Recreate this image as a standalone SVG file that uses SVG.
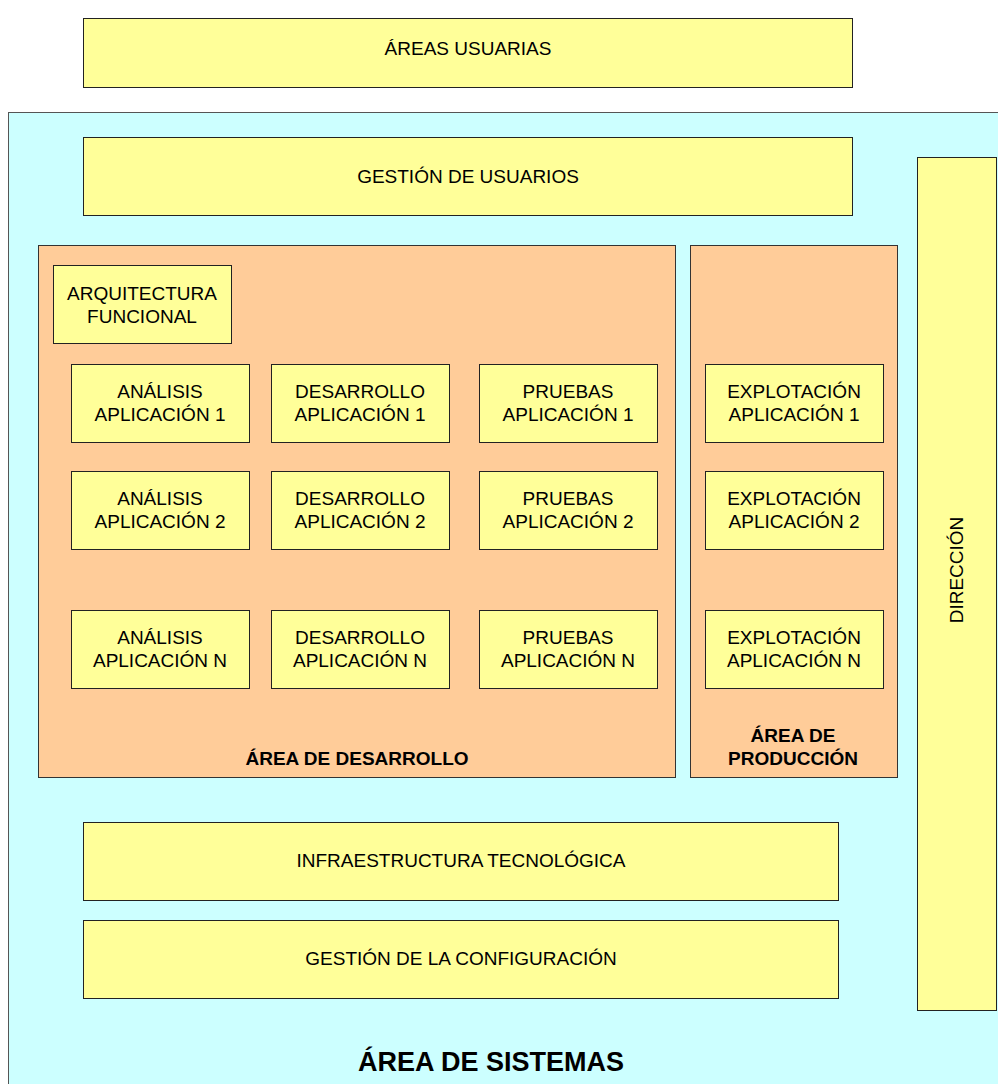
<svg xmlns="http://www.w3.org/2000/svg" width="998" height="1084" viewBox="0 0 998 1084">
  <style>
    .box { fill: #FFFF99; stroke: #222; stroke-width: 1; }
    .area { fill: #FFCC99; stroke: #333; stroke-width: 1; }
    .sys { fill: #CCFFFF; stroke: #555; stroke-width: 1; }
    .shadow { fill: none; stroke: #666; stroke-width: 1; }
    text { font-family: "Liberation Sans", Arial, sans-serif; fill: #000; text-anchor: middle; }
    .lbl { font-size: 19px; }
    .bold { font-size: 19px; font-weight: bold; }
    .title { font-size: 27px; font-weight: bold; }
  </style>
  <rect width="998" height="1084" fill="#FFFFFF"/>

  <g id="areas-usuarias">
    <rect class="box" x="83.5" y="18.5" width="769" height="69"/>
    <text class="lbl" x="468" y="55">ÁREAS USUARIAS</text>
  </g>

  <g id="area-sistemas">
    <rect class="sys" x="8.5" y="112.5" width="1000" height="1000"/>
    <text class="title" x="491" y="1071">ÁREA DE SISTEMAS</text>
  </g>

  <g id="gestion-usuarios">
    <rect class="box" x="83.5" y="137.5" width="769" height="78"/>
    <text class="lbl" x="468" y="183">GESTIÓN DE USUARIOS</text>
  </g>

  <g id="direccion">
    <rect class="box" x="917.5" y="157.5" width="79" height="853"/>
    <text class="lbl" transform="translate(963,570) rotate(-90)" x="0" y="0">DIRECCIÓN</text>
  </g>

  <g id="area-desarrollo">
    <rect class="area" x="38.5" y="245.5" width="637" height="532"/>
    <text class="bold" x="357" y="765">ÁREA DE DESARROLLO</text>
  </g>

  <g id="area-produccion">
    <rect class="area" x="690.5" y="245.5" width="207" height="532"/>
    <text class="bold" x="793" y="742">ÁREA DE</text>
    <text class="bold" x="793" y="765">PRODUCCIÓN</text>
  </g>

  <g id="arquitectura-funcional">
    <rect class="box" x="53.5" y="265.5" width="178" height="78"/>
    <text class="lbl" x="142" y="300">ARQUITECTURA</text>
    <text class="lbl" x="142" y="323">FUNCIONAL</text>
  </g>

  <!-- Row 1 -->
  <g id="analisis-1">
    <rect class="box" x="71.5" y="364.5" width="178" height="78"/>
    <text class="lbl" x="160" y="398">ANÁLISIS</text>
    <text class="lbl" x="160" y="421">APLICACIÓN 1</text>
  </g>
  <g id="desarrollo-1">
    <rect class="box" x="271.5" y="364.5" width="178" height="78"/>
    <text class="lbl" x="360" y="398">DESARROLLO</text>
    <text class="lbl" x="360" y="421">APLICACIÓN 1</text>
  </g>
  <g id="pruebas-1">
    <rect class="box" x="479.5" y="364.5" width="178" height="78"/>
    <text class="lbl" x="568" y="398">PRUEBAS</text>
    <text class="lbl" x="568" y="421">APLICACIÓN 1</text>
  </g>
  <g id="explotacion-1">
    <rect class="box" x="705.5" y="364.5" width="178" height="78"/>
    <text class="lbl" x="794" y="398">EXPLOTACIÓN</text>
    <text class="lbl" x="794" y="421">APLICACIÓN 1</text>
  </g>

  <!-- Row 2 -->
  <g id="analisis-2">
    <rect class="box" x="71.5" y="471.5" width="178" height="78"/>
    <text class="lbl" x="160" y="505">ANÁLISIS</text>
    <text class="lbl" x="160" y="528">APLICACIÓN 2</text>
  </g>
  <g id="desarrollo-2">
    <rect class="box" x="271.5" y="471.5" width="178" height="78"/>
    <text class="lbl" x="360" y="505">DESARROLLO</text>
    <text class="lbl" x="360" y="528">APLICACIÓN 2</text>
  </g>
  <g id="pruebas-2">
    <rect class="box" x="479.5" y="471.5" width="178" height="78"/>
    <text class="lbl" x="568" y="505">PRUEBAS</text>
    <text class="lbl" x="568" y="528">APLICACIÓN 2</text>
  </g>
  <g id="explotacion-2">
    <rect class="box" x="705.5" y="471.5" width="178" height="78"/>
    <text class="lbl" x="794" y="505">EXPLOTACIÓN</text>
    <text class="lbl" x="794" y="528">APLICACIÓN 2</text>
  </g>

  <!-- Row N -->
  <g id="analisis-n">
    <rect class="box" x="71.5" y="610.5" width="178" height="78"/>
    <text class="lbl" x="160" y="644">ANÁLISIS</text>
    <text class="lbl" x="160" y="667">APLICACIÓN N</text>
  </g>
  <g id="desarrollo-n">
    <rect class="box" x="271.5" y="610.5" width="178" height="78"/>
    <text class="lbl" x="360" y="644">DESARROLLO</text>
    <text class="lbl" x="360" y="667">APLICACIÓN N</text>
  </g>
  <g id="pruebas-n">
    <rect class="box" x="479.5" y="610.5" width="178" height="78"/>
    <text class="lbl" x="568" y="644">PRUEBAS</text>
    <text class="lbl" x="568" y="667">APLICACIÓN N</text>
  </g>
  <g id="explotacion-n">
    <rect class="box" x="705.5" y="610.5" width="178" height="78"/>
    <text class="lbl" x="794" y="644">EXPLOTACIÓN</text>
    <text class="lbl" x="794" y="667">APLICACIÓN N</text>
  </g>

  <g id="infraestructura">
    <rect class="box" x="83.5" y="822.5" width="755" height="78"/>
    <text class="lbl" x="461" y="867">INFRAESTRUCTURA TECNOLÓGICA</text>
  </g>

  <g id="gestion-configuracion">
    <rect class="box" x="83.5" y="920.5" width="755" height="78"/>
    <text class="lbl" x="461" y="965">GESTIÓN DE LA CONFIGURACIÓN</text>
  </g>

  <g id="connectors"></g>
</svg>
